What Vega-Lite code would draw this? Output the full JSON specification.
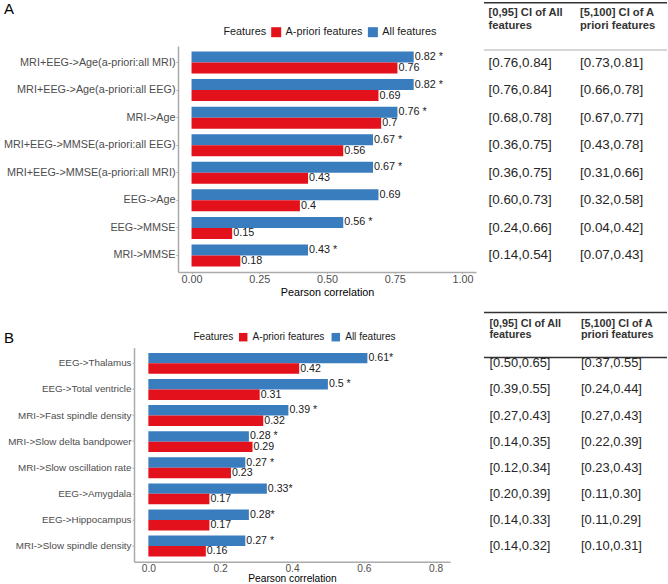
{
  "$schema": "https://vega.github.io/schema/vega-lite/v6.json",
  "padding": {"left": 3, "top": 1, "right": 0, "bottom": 0},
  "config": {
    "font": "Liberation Sans",
    "view": {"stroke": null},
    "axis": {"grid": false, "labelFlush": false}
  },
  "datasets": {
    "barsA": [
      {"label": "MRI+EEG->Age(a-priori:all MRI)", "Features": "All features", "value": 0.82, "text": "0.82 *"},
      {"label": "MRI+EEG->Age(a-priori:all MRI)", "Features": "A-priori features", "value": 0.76, "text": "0.76"},
      {"label": "MRI+EEG->Age(a-priori:all EEG)", "Features": "All features", "value": 0.82, "text": "0.82 *"},
      {"label": "MRI+EEG->Age(a-priori:all EEG)", "Features": "A-priori features", "value": 0.69, "text": "0.69"},
      {"label": "MRI->Age", "Features": "All features", "value": 0.76, "text": "0.76 *"},
      {"label": "MRI->Age", "Features": "A-priori features", "value": 0.70, "text": "0.7"},
      {"label": "MRI+EEG->MMSE(a-priori:all EEG)", "Features": "All features", "value": 0.67, "text": "0.67 *"},
      {"label": "MRI+EEG->MMSE(a-priori:all EEG)", "Features": "A-priori features", "value": 0.56, "text": "0.56"},
      {"label": "MRI+EEG->MMSE(a-priori:all MRI)", "Features": "All features", "value": 0.67, "text": "0.67 *"},
      {"label": "MRI+EEG->MMSE(a-priori:all MRI)", "Features": "A-priori features", "value": 0.43, "text": "0.43"},
      {"label": "EEG->Age", "Features": "All features", "value": 0.69, "text": "0.69"},
      {"label": "EEG->Age", "Features": "A-priori features", "value": 0.40, "text": "0.4"},
      {"label": "EEG->MMSE", "Features": "All features", "value": 0.56, "text": "0.56 *"},
      {"label": "EEG->MMSE", "Features": "A-priori features", "value": 0.15, "text": "0.15"},
      {"label": "MRI->MMSE", "Features": "All features", "value": 0.43, "text": "0.43 *"},
      {"label": "MRI->MMSE", "Features": "A-priori features", "value": 0.18, "text": "0.18"}
    ],
    "barsB": [
      {"label": "EEG->Thalamus", "Features": "All features", "value": 0.61, "text": "0.61*"},
      {"label": "EEG->Thalamus", "Features": "A-priori features", "value": 0.42, "text": "0.42"},
      {"label": "EEG->Total ventricle", "Features": "All features", "value": 0.50, "text": "0.5 *"},
      {"label": "EEG->Total ventricle", "Features": "A-priori features", "value": 0.31, "text": "0.31"},
      {"label": "MRI->Fast spindle density", "Features": "All features", "value": 0.39, "text": "0.39 *"},
      {"label": "MRI->Fast spindle density", "Features": "A-priori features", "value": 0.32, "text": "0.32"},
      {"label": "MRI->Slow delta bandpower", "Features": "All features", "value": 0.28, "text": "0.28 *"},
      {"label": "MRI->Slow delta bandpower", "Features": "A-priori features", "value": 0.29, "text": "0.29"},
      {"label": "MRI->Slow oscillation rate", "Features": "All features", "value": 0.27, "text": "0.27 *"},
      {"label": "MRI->Slow oscillation rate", "Features": "A-priori features", "value": 0.23, "text": "0.23"},
      {"label": "EEG->Amygdala", "Features": "All features", "value": 0.33, "text": "0.33*"},
      {"label": "EEG->Amygdala", "Features": "A-priori features", "value": 0.17, "text": "0.17"},
      {"label": "EEG->Hippocampus", "Features": "All features", "value": 0.28, "text": "0.28*"},
      {"label": "EEG->Hippocampus", "Features": "A-priori features", "value": 0.17, "text": "0.17"},
      {"label": "MRI->Slow spindle density", "Features": "All features", "value": 0.27, "text": "0.27 *"},
      {"label": "MRI->Slow spindle density", "Features": "A-priori features", "value": 0.16, "text": "0.16"}
    ],
    "tableA": [
      {"label": "MRI+EEG->Age(a-priori:all MRI)", "all": "[0.76,0.84]", "apriori": "[0.73,0.81]"},
      {"label": "MRI+EEG->Age(a-priori:all EEG)", "all": "[0.76,0.84]", "apriori": "[0.66,0.78]"},
      {"label": "MRI->Age", "all": "[0.68,0.78]", "apriori": "[0.67,0.77]"},
      {"label": "MRI+EEG->MMSE(a-priori:all EEG)", "all": "[0.36,0.75]", "apriori": "[0.43,0.78]"},
      {"label": "MRI+EEG->MMSE(a-priori:all MRI)", "all": "[0.36,0.75]", "apriori": "[0.31,0.66]"},
      {"label": "EEG->Age", "all": "[0.60,0.73]", "apriori": "[0.32,0.58]"},
      {"label": "EEG->MMSE", "all": "[0.24,0.66]", "apriori": "[0.04,0.42]"},
      {"label": "MRI->MMSE", "all": "[0.14,0.54]", "apriori": "[0.07,0.43]"}
    ],
    "tableB": [
      {"label": "EEG->Thalamus", "all": "[0.50,0.65]", "apriori": "[0.37,0.55]"},
      {"label": "EEG->Total ventricle", "all": "[0.39,0.55]", "apriori": "[0.24,0.44]"},
      {"label": "MRI->Fast spindle density", "all": "[0.27,0.43]", "apriori": "[0.27,0.43]"},
      {"label": "MRI->Slow delta bandpower", "all": "[0.14,0.35]", "apriori": "[0.22,0.39]"},
      {"label": "MRI->Slow oscillation rate", "all": "[0.12,0.34]", "apriori": "[0.23,0.43]"},
      {"label": "EEG->Amygdala", "all": "[0.20,0.39]", "apriori": "[0.11,0.30]"},
      {"label": "EEG->Hippocampus", "all": "[0.14,0.33]", "apriori": "[0.11,0.29]"},
      {"label": "MRI->Slow spindle density", "all": "[0.14,0.32]", "apriori": "[0.10,0.31]"}
    ]
  },
  "spacing": 13.7,
  "resolve": {"scale": {"color": "independent", "yOffset": "independent"}, "legend": {"color": "independent"}},
  "vconcat": [
    {
      "spacing": 7.5,
      "resolve": {"scale": {"color": "independent", "yOffset": "independent"}, "legend": {"color": "independent"}},
      "hconcat": [
        {
          "width": 342,
          "height": 226,
          "data": {"name": "barsA"},
          "layer": [
            {
              "mark": {"type": "bar"},
              "encoding": {
                "y": {
                  "field": "label", "type": "nominal", "sort": null,
                  "scale": {"paddingInner": 0.2, "paddingOuter": 0.2},
                  "axis": {
                    "offset": -44,
                    "title": "A", "titleAngle": 0, "titleX": -174.5, "titleY": -44.5,
                    "titleAlign": "left", "titleBaseline": "top", "titleFontSize": 15,
                    "titleFontWeight": "normal", "titleColor": "#000000",
                    "labelFontSize": 10.8, "labelColor": "#4d4d4d", "labelPadding": 1,
                    "tickSize": 2, "tickColor": "#aaaaaa",
                    "domainColor": "#aaaaaa", "domainWidth": 1.5,
                    "minExtent": 174.5, "maxExtent": 174.5
                  }
                },
                "x": {
                  "field": "value", "type": "quantitative",
                  "scale": {"domain": [-0.05, 1.05], "nice": false, "rangeMin": 44},
                  "axis": {
                    "values": [0, 0.25, 0.5, 0.75, 1], "format": ".2f",
                    "title": "Pearson correlation", "titleFontSize": 10.8,
                    "titleFontWeight": "normal", "titleColor": "#000000", "titlePadding": 2,
                    "labelFontSize": 10.8, "labelColor": "#4d4d4d", "labelPadding": 0,
                    "tickSize": 1.3, "tickColor": "#aaaaaa",
                    "domainColor": "#aaaaaa", "domainWidth": 1.5
                  }
                },
                "yOffset": {"field": "Features", "sort": ["All features", "A-priori features"]},
                "color": {
                  "field": "Features", "type": "nominal",
                  "scale": {"domain": ["A-priori features", "All features"], "range": ["#e3111b", "#3a7dbf"]},
                  "legend": {
                    "orient": "none", "legendX": 64.5, "legendY": -44.5, "padding": 25,
                    "direction": "horizontal", "titleOrient": "left", "title": "Features",
                    "symbolType": "square", "symbolSize": 100, "symbolStrokeWidth": 0,
                    "labelFontSize": 10.8, "titleFontSize": 10.8, "titleFontWeight": "normal",
                    "labelColor": "#1a1a1a", "titleColor": "#1a1a1a",
                    "labelOffset": 4, "columnPadding": 4.7, "titlePadding": 4.3
                  }
                }
              }
            },
            {
              "mark": {"type": "text", "align": "left", "baseline": "middle", "dx": 1, "fontSize": 10.8, "color": "#1a1a1a"},
              "encoding": {
                "y": {"field": "label", "type": "nominal", "sort": null},
                "x": {"field": "value", "type": "quantitative"},
                "yOffset": {"field": "Features", "sort": ["All features", "A-priori features"]},
                "text": {"field": "text"}
              }
            }
          ]
        },
        {
          "width": 183,
          "height": 226,
          "data": {"name": "tableA"},
          "transform": [{"fold": ["all", "apriori"], "as": ["col", "ci"]}],
          "resolve": {"scale": {"x": "independent"}, "axis": {"x": "independent"}},
          "layer": [
            {
              "transform": [{"filter": "datum.col == 'all'"}],
              "mark": {"type": "text", "align": "left", "baseline": "middle", "dx": 5, "fontSize": 13.4, "color": "#262626"},
              "encoding": {
                "y": {"field": "label", "type": "nominal", "sort": null, "scale": {"type": "band", "paddingInner": 0.2, "paddingOuter": 0.2}, "axis": null},
                "x": {
                  "field": "col", "type": "nominal", "bandPosition": 0,
                  "scale": {"type": "band", "domain": ["all", "apriori"], "paddingInner": 0, "paddingOuter": 0},
                  "axis": {
                    "orient": "top", "offset": -3.5, "title": null,
                    "ticks": false, "tickSize": 0,
                    "domainColor": "#c8c8c8", "domainWidth": 1.5,
                    "labelExpr": "datum.value == 'all' ? ['[0,95] CI of All', 'features'] : ['[5,100] CI of A', 'priori features']",
                    "labelAngle": 0, "labelAlign": "left", "labelBaseline": "middle", "labelOffset": -40.75, "labelPadding": 36.7,
                    "labelFontSize": 11.2, "labelFontWeight": "bold", "labelColor": "#333333",
                    "labelLineHeight": 12.7, "labelOverlap": false, "labelLimit": 300
                  }
                },
                "text": {"field": "ci"}
              }
            },
            {
              "transform": [{"filter": "datum.col == 'apriori'"}],
              "mark": {"type": "text", "align": "left", "baseline": "middle", "dx": 5, "fontSize": 13.4, "color": "#262626"},
              "encoding": {
                "y": {"field": "label", "type": "nominal", "sort": null},
                "x": {
                  "field": "col", "type": "nominal", "bandPosition": 0,
                  "scale": {"type": "band", "domain": ["all", "apriori"], "paddingInner": 0, "paddingOuter": 0},
                  "axis": {
                    "orient": "top", "offset": 43.8, "title": null,
                    "ticks": false, "labels": false,
                    "domainColor": "#333333", "domainWidth": 1.5
                  }
                },
                "text": {"field": "ci"}
              }
            }
          ]
        }
      ]
    },
    {
      "spacing": 33.5,
      "resolve": {"scale": {"color": "independent", "yOffset": "independent"}, "legend": {"color": "independent"}},
      "hconcat": [
        {
          "width": 316,
          "height": 214,
          "data": {"name": "barsB"},
          "layer": [
            {
              "mark": {"type": "bar"},
              "encoding": {
                "y": {
                  "field": "label", "type": "nominal", "sort": null,
                  "scale": {"paddingInner": 0.2, "paddingOuter": 0.2},
                  "axis": {
                    "title": "B", "titleAngle": 0, "titleX": -130.5, "titleY": -17.7,
                    "titleAlign": "left", "titleBaseline": "top", "titleFontSize": 15,
                    "titleFontWeight": "normal", "titleColor": "#000000",
                    "labelFontSize": 9.8, "labelColor": "#4d4d4d", "labelPadding": 1,
                    "tickSize": 2, "tickColor": "#aaaaaa",
                    "domainColor": "#aaaaaa", "domainWidth": 1.5,
                    "minExtent": 130.5, "maxExtent": 130.5
                  }
                },
                "x": {
                  "field": "value", "type": "quantitative",
                  "scale": {"domain": [-0.04, 0.84], "nice": false},
                  "axis": {
                    "values": [0, 0.2, 0.4, 0.6, 0.8], "format": ".1f",
                    "title": "Pearson correlation", "titleFontSize": 10.2,
                    "titleFontWeight": "normal", "titleColor": "#000000", "titlePadding": 0.5,
                    "labelFontSize": 10.2, "labelColor": "#4d4d4d", "labelPadding": 0,
                    "tickSize": 1.3, "tickColor": "#aaaaaa",
                    "domainColor": "#aaaaaa", "domainWidth": 1.5
                  }
                },
                "yOffset": {"field": "Features", "sort": ["All features", "A-priori features"]},
                "color": {
                  "field": "Features", "type": "nominal",
                  "scale": {"domain": ["A-priori features", "All features"], "range": ["#e3111b", "#3a7dbf"]},
                  "legend": {
                    "orient": "none", "legendX": 39, "legendY": -36.45, "padding": 20.45,
                    "direction": "horizontal", "titleOrient": "left", "title": "Features",
                    "symbolType": "square", "symbolSize": 72, "symbolStrokeWidth": 0,
                    "labelFontSize": 10.1, "titleFontSize": 10.1, "titleFontWeight": "normal",
                    "labelColor": "#1a1a1a", "titleColor": "#1a1a1a",
                    "labelOffset": 4.3, "columnPadding": 5.6, "titlePadding": 4.7
                  }
                }
              }
            },
            {
              "mark": {"type": "text", "align": "left", "baseline": "middle", "dx": 1, "fontSize": 10.6, "color": "#1a1a1a"},
              "encoding": {
                "y": {"field": "label", "type": "nominal", "sort": null},
                "x": {"field": "value", "type": "quantitative"},
                "yOffset": {"field": "Features", "sort": ["All features", "A-priori features"]},
                "text": {"field": "text"}
              }
            }
          ]
        },
        {
          "width": 183,
          "height": 214,
          "data": {"name": "tableB"},
          "transform": [{"fold": ["all", "apriori"], "as": ["col", "ci"]}],
          "resolve": {"scale": {"x": "independent"}, "axis": {"x": "independent"}},
          "layer": [
            {
              "transform": [{"filter": "datum.col == 'all'"}],
              "mark": {"type": "text", "align": "left", "baseline": "middle", "dx": 6, "fontSize": 12.9, "color": "#262626"},
              "encoding": {
                "y": {"field": "label", "type": "nominal", "sort": null, "scale": {"type": "band", "paddingInner": 0.2, "paddingOuter": 0.2}, "axis": null},
                "x": {
                  "field": "col", "type": "nominal", "bandPosition": 0,
                  "scale": {"type": "band", "domain": ["all", "apriori"], "paddingInner": 0, "paddingOuter": 0},
                  "axis": {
                    "orient": "top", "offset": -9.3, "title": null,
                    "ticks": false, "tickSize": 0,
                    "domainColor": "#333333", "domainWidth": 1.5,
                    "labelExpr": "datum.value == 'all' ? ['[0,95] CI of All', 'features'] : ['[5,100] CI of A', 'priori features']",
                    "labelAngle": 0, "labelAlign": "left", "labelBaseline": "middle", "labelOffset": -39.75, "labelPadding": 33.3,
                    "labelFontSize": 10.8, "labelFontWeight": "bold", "labelColor": "#333333",
                    "labelLineHeight": 10.7, "labelOverlap": false, "labelLimit": 300
                  }
                },
                "text": {"field": "ci"}
              }
            },
            {
              "transform": [{"filter": "datum.col == 'apriori'"}],
              "mark": {"type": "text", "align": "left", "baseline": "middle", "dx": 6, "fontSize": 12.9, "color": "#262626"},
              "encoding": {
                "y": {"field": "label", "type": "nominal", "sort": null},
                "x": {
                  "field": "col", "type": "nominal", "bandPosition": 0,
                  "scale": {"type": "band", "domain": ["all", "apriori"], "paddingInner": 0, "paddingOuter": 0},
                  "axis": {
                    "orient": "top", "offset": 35.7, "title": null,
                    "ticks": false, "labels": false,
                    "domainColor": "#333333", "domainWidth": 1.5
                  }
                },
                "text": {"field": "ci"}
              }
            }
          ]
        }
      ]
    }
  ]
}
